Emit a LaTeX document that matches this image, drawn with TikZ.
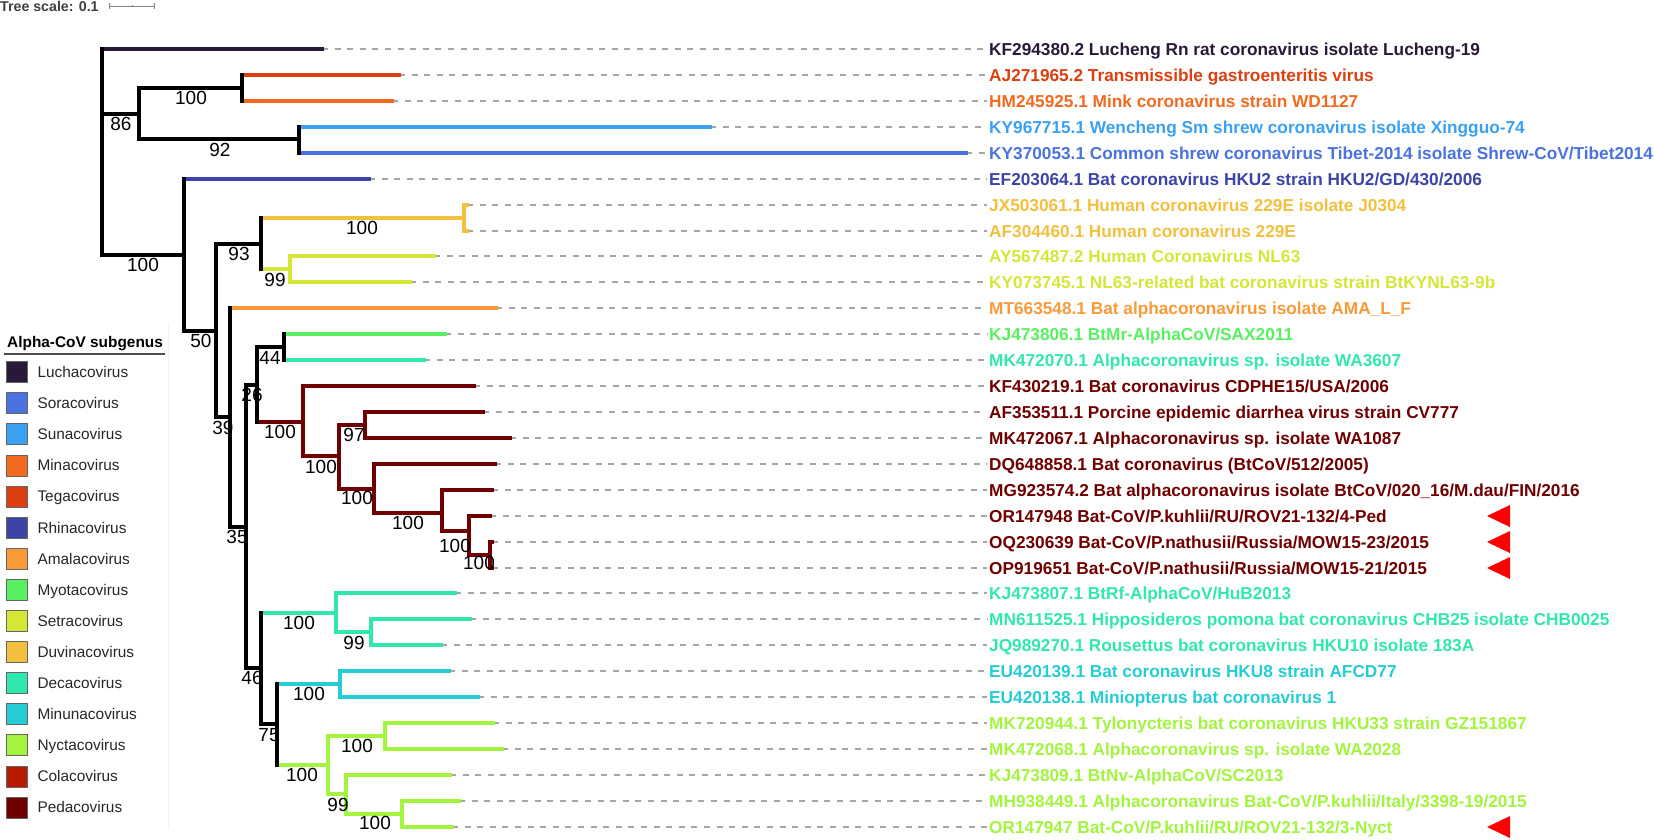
\documentclass[tikz,border=0pt]{standalone}
\usepackage{fontspec}
\setmainfont{Liberation Sans}
\usetikzlibrary{positioning}
\definecolor{lucha}{HTML}{2A1838}
\definecolor{sora}{HTML}{4A72E0}
\definecolor{suna}{HTML}{3AA0F2}
\definecolor{mina}{HTML}{F26A20}
\definecolor{tega}{HTML}{DC4010}
\definecolor{rhina}{HTML}{3C44A8}
\definecolor{amala}{HTML}{F89A38}
\definecolor{myota}{HTML}{58F060}
\definecolor{setra}{HTML}{D4E636}
\definecolor{duvina}{HTML}{F2C03E}
\definecolor{deca}{HTML}{30E8AE}
\definecolor{minuna}{HTML}{26CCD4}
\definecolor{nycta}{HTML}{A2F43E}
\definecolor{cola}{HTML}{B81C00}
\definecolor{peda}{HTML}{700000}
\newcommand{\leaffont}{\fontsize{17.25}{20}\selectfont\bfseries}
\newcommand{\bootfont}{\fontsize{19}{22}\selectfont}
\newcommand{\legfont}{\fontsize{15.4}{18}\selectfont}
\tikzset{
  br/.style={line width=3.4pt,line cap=rect},
  guide/.style={gray!70,line width=1.1pt,dash pattern=on 6pt off 6.6pt},
  leaf/.style={anchor=west,inner xsep=2pt,inner ysep=0pt,text height=12.4pt,text depth=0pt,font=\leaffont},
  boot/.style={inner sep=0pt,text height=13.6pt,text depth=0pt,font=\bootfont},
  legbox/.style={draw=black!60,line width=0.6pt,minimum size=21pt,inner sep=0pt},
  legtxt/.style={right=10pt of #1,inner sep=0pt,text height=11pt,text depth=0pt,font=\legfont,text=black!85},
}
\begin{document}
\begin{tikzpicture}[x=1pt,y=-1pt]
        \useasboundingbox (0,0) rectangle (1654,839);
        %% tree scale
        \node[anchor=base west,inner sep=0pt,font=\fontsize{14.2}{16}\selectfont\bfseries,text=black!75] (scale) at (0,11) {Tree scale: 0.1};
        \draw[gray,line width=1pt] (109,3) -- (109,9) (109,6) -- (154,6) (154,3) -- (154,9) (132,5) -- (132,7);
        %% inner nodes
        \coordinate (root) at (102,152);
        \coordinate (A) at (139,114);
        \coordinate (B) at (242,88);
        \coordinate (C) at (299,139);
        \coordinate (D) at (184,255);
        \coordinate (E) at (216,331);
        \coordinate (F) at (261,244);
        \coordinate (G) at (464,218);
        \coordinate (H) at (290,269);
        \coordinate (I) at (230,417);
        \coordinate (J) at (246,527);
        \coordinate (K) at (257,385);
        \coordinate (L) at (284,347);
        \coordinate (M) at (303,422);
        \coordinate (N) at (339,456);
        \coordinate (O) at (365,425);
        \coordinate (P) at (374,489);
        \coordinate (Q) at (442,513);
        \coordinate (R) at (469,531);
        \coordinate (S) at (490,555);
        \coordinate (T) at (261,668);
        \coordinate (U) at (336,613);
        \coordinate (V) at (371,632);
        \coordinate (W) at (277,724);
        \coordinate (X) at (340,684);
        \coordinate (Y) at (328,765);
        \coordinate (Z) at (385,736);
        \coordinate (AA) at (346,794);
        \coordinate (AB) at (402,814);
        %% leaf tips
        \coordinate (t1) at (322,49);
        \coordinate (t2) at (399,75);
        \coordinate (t3) at (392,101);
        \coordinate (t4) at (710,127);
        \coordinate (t5) at (966,153);
        \coordinate (t6) at (369,179);
        \coordinate (t7) at (467,205);
        \coordinate (t8) at (467,231);
        \coordinate (t9) at (434,256);
        \coordinate (t10) at (410,282);
        \coordinate (t11) at (496,308);
        \coordinate (t12) at (445,334);
        \coordinate (t13) at (424,360);
        \coordinate (t14) at (474,386);
        \coordinate (t15) at (483,412);
        \coordinate (t16) at (510,438);
        \coordinate (t17) at (495,464);
        \coordinate (t18) at (492,490);
        \coordinate (t19) at (490,516);
        \coordinate (t20) at (492,542);
        \coordinate (t21) at (492,568);
        \coordinate (t22) at (455,593);
        \coordinate (t23) at (470,619);
        \coordinate (t24) at (441,645);
        \coordinate (t25) at (449,671);
        \coordinate (t26) at (478,697);
        \coordinate (t27) at (493,723);
        \coordinate (t28) at (502,749);
        \coordinate (t29) at (450,775);
        \coordinate (t30) at (459,801);
        \coordinate (t31) at (452,827);
        %% leaf labels
        \node[leaf,text=lucha] (n1) at (987,49) {KF294380.2 Lucheng Rn rat coronavirus isolate Lucheng-19};
        \node[leaf,text=tega] (n2) at (987,75) {AJ271965.2 Transmissible gastroenteritis virus};
        \node[leaf,text=mina] (n3) at (987,101) {HM245925.1 Mink coronavirus strain WD1127};
        \node[leaf,text=suna] (n4) at (987,127) {KY967715.1 Wencheng Sm shrew coronavirus isolate Xingguo-74};
        \node[leaf,text=sora] (n5) at (987,153) {KY370053.1 Common shrew coronavirus Tibet-2014 isolate Shrew-CoV/Tibet2014};
        \node[leaf,text=rhina] (n6) at (987,179) {EF203064.1 Bat coronavirus HKU2 strain HKU2/GD/430/2006};
        \node[leaf,text=duvina] (n7) at (987,205) {JX503061.1 Human coronavirus 229E isolate J0304};
        \node[leaf,text=duvina] (n8) at (987,231) {AF304460.1 Human coronavirus 229E};
        \node[leaf,text=setra] (n9) at (987,256) {AY567487.2 Human Coronavirus NL63};
        \node[leaf,text=setra] (n10) at (987,282) {KY073745.1 NL63-related bat coronavirus strain BtKYNL63-9b};
        \node[leaf,text=amala] (n11) at (987,308) {MT663548.1 Bat alphacoronavirus isolate AMA\_L\_F};
        \node[leaf,text=myota] (n12) at (987,334) {KJ473806.1 BtMr-AlphaCoV/SAX2011};
        \node[leaf,text=deca] (n13) at (987,360) {MK472070.1 Alphacoronavirus sp. isolate WA3607};
        \node[leaf,text=peda] (n14) at (987,386) {KF430219.1 Bat coronavirus CDPHE15/USA/2006};
        \node[leaf,text=peda] (n15) at (987,412) {AF353511.1 Porcine epidemic diarrhea virus strain CV777};
        \node[leaf,text=peda] (n16) at (987,438) {MK472067.1 Alphacoronavirus sp. isolate WA1087};
        \node[leaf,text=peda] (n17) at (987,464) {DQ648858.1 Bat coronavirus (BtCoV/512/2005)};
        \node[leaf,text=peda] (n18) at (987,490) {MG923574.2 Bat alphacoronavirus isolate BtCoV/020\_16/M.dau/FIN/2016};
        \node[leaf,text=peda] (n19) at (987,516) {OR147948 Bat-CoV/P.kuhlii/RU/ROV21-132/4-Ped};
        \node[leaf,text=peda] (n20) at (987,542) {OQ230639 Bat-CoV/P.nathusii/Russia/MOW15-23/2015};
        \node[leaf,text=peda] (n21) at (987,568) {OP919651 Bat-CoV/P.nathusii/Russia/MOW15-21/2015};
        \node[leaf,text=deca] (n22) at (987,593) {KJ473807.1 BtRf-AlphaCoV/HuB2013};
        \node[leaf,text=deca] (n23) at (987,619) {MN611525.1 Hipposideros pomona bat coronavirus CHB25 isolate CHB0025};
        \node[leaf,text=deca] (n24) at (987,645) {JQ989270.1 Rousettus bat coronavirus HKU10 isolate 183A};
        \node[leaf,text=minuna] (n25) at (987,671) {EU420139.1 Bat coronavirus HKU8 strain AFCD77};
        \node[leaf,text=minuna] (n26) at (987,697) {EU420138.1 Miniopterus bat coronavirus 1};
        \node[leaf,text=nycta] (n27) at (987,723) {MK720944.1 Tylonycteris bat coronavirus HKU33 strain GZ151867};
        \node[leaf,text=nycta] (n28) at (987,749) {MK472068.1 Alphacoronavirus sp. isolate WA2028};
        \node[leaf,text=nycta] (n29) at (987,775) {KJ473809.1 BtNv-AlphaCoV/SC2013};
        \node[leaf,text=nycta] (n30) at (987,801) {MH938449.1 Alphacoronavirus Bat-CoV/P.kuhlii/Italy/3398-19/2015};
        \node[leaf,text=nycta] (n31) at (987,827) {OR147947 Bat-CoV/P.kuhlii/RU/ROV21-132/3-Nyct};
        %% guides
        \draw[guide] (t1) -- (n1.west);
        \draw[guide] (t2) -- (n2.west);
        \draw[guide] (t3) -- (n3.west);
        \draw[guide] (t4) -- (n4.west);
        \draw[guide] (t5) -- (n5.west);
        \draw[guide] (t6) -- (n6.west);
        \draw[guide] (t7) -- (n7.west);
        \draw[guide] (t8) -- (n8.west);
        \draw[guide] (t9) -- (n9.west);
        \draw[guide] (t10) -- (n10.west);
        \draw[guide] (t11) -- (n11.west);
        \draw[guide] (t12) -- (n12.west);
        \draw[guide] (t13) -- (n13.west);
        \draw[guide] (t14) -- (n14.west);
        \draw[guide] (t15) -- (n15.west);
        \draw[guide] (t16) -- (n16.west);
        \draw[guide] (t17) -- (n17.west);
        \draw[guide] (t18) -- (n18.west);
        \draw[guide] (t19) -- (n19.west);
        \draw[guide] (t20) -- (n20.west);
        \draw[guide] (t21) -- (n21.west);
        \draw[guide] (t22) -- (n22.west);
        \draw[guide] (t23) -- (n23.west);
        \draw[guide] (t24) -- (n24.west);
        \draw[guide] (t25) -- (n25.west);
        \draw[guide] (t26) -- (n26.west);
        \draw[guide] (t27) -- (n27.west);
        \draw[guide] (t28) -- (n28.west);
        \draw[guide] (t29) -- (n29.west);
        \draw[guide] (t30) -- (n30.west);
        \draw[guide] (t31) -- (n31.west);
        %% coloured branches
        \draw[br,lucha] (root |- t1) -- (t1);
        \draw[br,tega] (B |- t2) -- (t2);
        \draw[br,mina] (B |- t3) -- (t3);
        \draw[br,suna] (C |- t4) -- (t4);
        \draw[br,sora] (C |- t5) -- (t5);
        \draw[br,rhina] (D |- t6) -- (t6);
        \draw[br,duvina] (F |- G) -- (G) (G |- t7) -- (G |- t8) (G |- t7) -- (t7) (G |- t8) -- (t8);
        \draw[br,setra] (F |- H) -- (H) (H |- t9) -- (H |- t10) (H |- t9) -- (t9) (H |- t10) -- (t10);
        \draw[br,amala] (I |- t11) -- (t11);
        \draw[br,myota] (L |- t12) -- (t12);
        \draw[br,deca] (L |- t13) -- (t13);
        \draw[br,peda] (K |- M) -- (M) (M |- t14) -- (M |- N) (M |- t14) -- (t14) (M |- N) -- (N);
        \draw[br,peda] (N |- O) -- (N |- P) (N |- O) -- (O) (N |- P) -- (P);
        \draw[br,peda] (O |- t15) -- (O |- t16) (O |- t15) -- (t15) (O |- t16) -- (t16);
        \draw[br,peda] (P |- t17) -- (P |- Q) (P |- t17) -- (t17) (P |- Q) -- (Q);
        \draw[br,peda] (Q |- t18) -- (Q |- R) (Q |- t18) -- (t18) (Q |- R) -- (R);
        \draw[br,peda] (R |- t19) -- (R |- S) (R |- t19) -- (t19) (R |- S) -- (S);
        \draw[br,peda] (S |- t20) -- (S |- t21) (S |- t20) -- (t20) (S |- t21) -- (t21);
        \draw[br,deca] (T |- U) -- (U) (U |- t22) -- (U |- V) (U |- t22) -- (t22) (U |- V) -- (V);
        \draw[br,deca] (V |- t23) -- (V |- t24) (V |- t23) -- (t23) (V |- t24) -- (t24);
        \draw[br,minuna] (W |- X) -- (X) (X |- t25) -- (X |- t26) (X |- t25) -- (t25) (X |- t26) -- (t26);
        \draw[br,nycta] (W |- Y) -- (Y) (Y |- Z) -- (Y |- AA) (Y |- Z) -- (Z) (Y |- AA) -- (AA);
        \draw[br,nycta] (Z |- t27) -- (Z |- t28) (Z |- t27) -- (t27) (Z |- t28) -- (t28);
        \draw[br,nycta] (AA |- t29) -- (AA |- AB) (AA |- t29) -- (t29) (AA |- AB) -- (AB);
        \draw[br,nycta] (AB |- t30) -- (AB |- t31) (AB |- t30) -- (t30) (AB |- t31) -- (t31);
        %% black backbone
        \draw[br] (root |- t1) -- (root |- D) (root |- A) -- (A) (root |- D) -- (D);
        \draw[br] (A |- B) -- (A |- C) (A |- B) -- (B) (A |- C) -- (C);
        \draw[br] (B |- t2) -- (B |- t3);
        \draw[br] (C |- t4) -- (C |- t5);
        \draw[br] (D |- t6) -- (D |- E) (D |- E) -- (E);
        \draw[br] (E |- F) -- (E |- I) (E |- F) -- (F) (E |- I) -- (I);
        \draw[br] (F |- G) -- (F |- H);
        \draw[br] (I |- t11) -- (I |- J) (I |- J) -- (J);
        \draw[br] (J |- K) -- (J |- T) (J |- K) -- (K) (J |- T) -- (T);
        \draw[br] (K |- L) -- (K |- M) (K |- L) -- (L);
        \draw[br] (L |- t12) -- (L |- t13);
        \draw[br] (T |- U) -- (T |- W) (T |- W) -- (W);
        \draw[br] (W |- X) -- (W |- Y);
        %% bootstrap values
        \node[boot] (b1) at (121,124) {86};
        \node[boot] (b2) at (191,98) {100};
        \node[boot] (b3) at (220,150) {92};
        \node[boot] (b4) at (143,265) {100};
        \node[boot] (b5) at (201,341) {50};
        \node[boot] (b6) at (239,254) {93};
        \node[boot] (b7) at (362,228) {100};
        \node[boot] (b8) at (275,280) {99};
        \node[boot] (b9) at (223,428) {39};
        \node[boot] (b10) at (237,537) {35};
        \node[boot] (b11) at (252,395) {26};
        \node[boot] (b12) at (270,358) {44};
        \node[boot] (b13) at (280,432) {100};
        \node[boot] (b14) at (321,467) {100};
        \node[boot] (b15) at (354,435) {97};
        \node[boot] (b16) at (357,498) {100};
        \node[boot] (b17) at (408,523) {100};
        \node[boot] (b18) at (455,546) {100};
        \node[boot] (b19) at (479,563) {100};
        \node[boot] (b20) at (252,678) {46};
        \node[boot] (b21) at (299,623) {100};
        \node[boot] (b22) at (354,643) {99};
        \node[boot] (b23) at (269,735) {75};
        \node[boot] (b24) at (309,694) {100};
        \node[boot] (b25) at (302,775) {100};
        \node[boot] (b26) at (357,746) {100};
        \node[boot] (b27) at (338,805) {99};
        \node[boot] (b28) at (375,823) {100};
        %% markers
        \fill[red] (1487,516) -- (1510,505) -- (1510,527) -- cycle;
        \fill[red] (1487,542) -- (1510,531) -- (1510,553) -- cycle;
        \fill[red] (1487,568) -- (1510,557) -- (1510,579) -- cycle;
        \fill[red] (1487,827) -- (1510,816) -- (1510,838) -- cycle;
        %% legend
        \draw[gray!12,line width=1pt] (168,322) -- (168,830);
        \node[anchor=west,inner sep=0pt,text height=11pt,text depth=0pt,font=\legfont\bfseries] (title) at (7,342) {Alpha-CoV subgenus};
        \draw[black!70,line width=1.2pt] (4,354) -- (165,354);
        \node[legbox,fill=lucha] (k1) at (16.5,372) {};
        \node[legbox,fill=sora,below=9.5pt of k1] (k2) {};
        \node[legbox,fill=suna,below=9.5pt of k2] (k3) {};
        \node[legbox,fill=mina,below=9.5pt of k3] (k4) {};
        \node[legbox,fill=tega,below=9.5pt of k4] (k5) {};
        \node[legbox,fill=rhina,below=9.5pt of k5] (k6) {};
        \node[legbox,fill=amala,below=9.5pt of k6] (k7) {};
        \node[legbox,fill=myota,below=9.5pt of k7] (k8) {};
        \node[legbox,fill=setra,below=9.5pt of k8] (k9) {};
        \node[legbox,fill=duvina,below=9.5pt of k9] (k10) {};
        \node[legbox,fill=deca,below=9.5pt of k10] (k11) {};
        \node[legbox,fill=minuna,below=9.5pt of k11] (k12) {};
        \node[legbox,fill=nycta,below=9.5pt of k12] (k13) {};
        \node[legbox,fill=cola,below=9.5pt of k13] (k14) {};
        \node[legbox,fill=peda,below=9.5pt of k14] (k15) {};
        \node[legtxt=k1] (g1) {Luchacovirus};
        \node[legtxt=k2] (g2) {Soracovirus};
        \node[legtxt=k3] (g3) {Sunacovirus};
        \node[legtxt=k4] (g4) {Minacovirus};
        \node[legtxt=k5] (g5) {Tegacovirus};
        \node[legtxt=k6] (g6) {Rhinacovirus};
        \node[legtxt=k7] (g7) {Amalacovirus};
        \node[legtxt=k8] (g8) {Myotacovirus};
        \node[legtxt=k9] (g9) {Setracovirus};
        \node[legtxt=k10] (g10) {Duvinacovirus};
        \node[legtxt=k11] (g11) {Decacovirus};
        \node[legtxt=k12] (g12) {Minunacovirus};
        \node[legtxt=k13] (g13) {Nyctacovirus};
        \node[legtxt=k14] (g14) {Colacovirus};
        \node[legtxt=k15] (g15) {Pedacovirus};
    \end{tikzpicture}
\end{document}
